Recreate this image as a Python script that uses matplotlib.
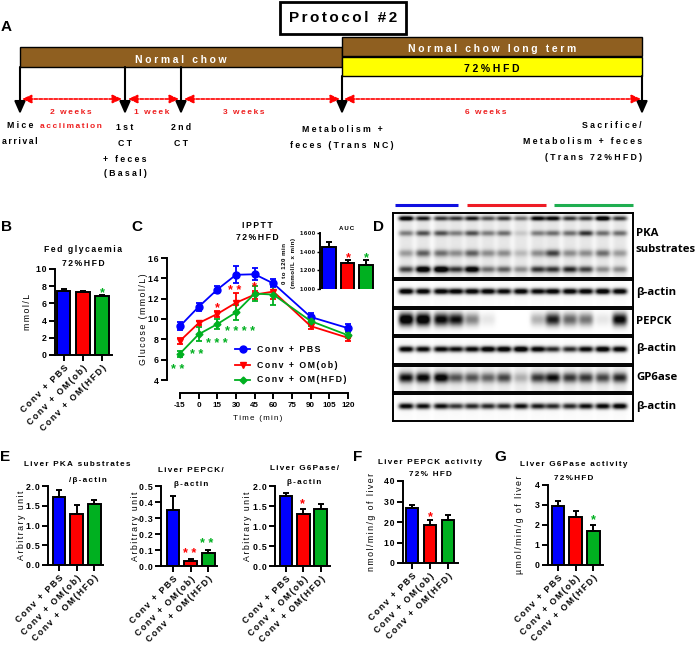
import matplotlib
matplotlib.use("Agg")
import matplotlib.pyplot as plt
import numpy as np
from matplotlib.patches import Rectangle

W, H = 696, 645
plt.rcParams['font.family'] = ['Liberation Sans', 'DejaVu Sans']
plt.rcParams['font.weight'] = 'bold'
plt.rcParams['axes.linewidth'] = 1.4

# bar groups
groups = ["Conv + PBS", "Conv + OM(ob)", "Conv + OM(HFD)"]
colors = ["#0000ff", "#ff0000", "#00b020"]

fed_vals = [7.5, 7.3, 6.85]
fed_errs = [0.2, 0.2, 0.15]
pka_vals = [1.72, 1.30, 1.55]
pka_errs = [0.17, 0.22, 0.09]
pepck_vals = [0.35, 0.03, 0.08]
pepck_errs = [0.09, 0.012, 0.018]
g6p_vals = [1.75, 1.30, 1.42]
g6p_errs = [0.07, 0.12, 0.12]
pepck_act_vals = [27.0, 18.7, 21.2]
pepck_act_errs = [1.5, 2.5, 2.0]
g6p_act_vals = [2.95, 2.38, 1.72]
g6p_act_errs = [0.25, 0.30, 0.30]
auc_vals = [1450, 1275, 1255]
auc_errs = [55, 35, 55]

# IPPTT curves
time_min = [-15, 0, 15, 30, 45, 60, 90, 120]
time_ticks = [-15, 0, 15, 30, 45, 60, 75, 90, 105, 120]
pbs_mean = [9.3, 11.2, 12.9, 14.35, 14.4, 13.5, 10.2, 9.1]
pbs_err = [0.4, 0.4, 0.3, 0.85, 0.6, 0.4, 0.4, 0.4]
ob_mean = [7.85, 9.6, 10.5, 11.6, 12.4, 12.7, 9.3, 8.15]
ob_err = [0.3, 0.2, 0.3, 0.95, 0.4, 0.7, 0.3, 0.3]
hfd_mean = [6.6, 8.5, 9.5, 10.65, 12.5, 12.4, 9.8, 8.4]
hfd_err = [0.3, 0.7, 0.5, 0.7, 0.7, 1.0, 0.5, 0.3]

# blot band strength per lane, read by eye
pka_band1 = [.9, .7, .6, .6, .7, .5, .6, .4, .8, .8, .6, .6, .95, .6]
pka_band2 = [.35, .5, .5, .35, .5, .35, .4, .1, .35, .4, .4, .6, .4, .4]
pka_band3 = [.25, .45, .4, .3, .45, .3, .3, .15, .3, .55, .3, .3, .4, .25]
pka_band4 = [.55, .95, 1, .6, .9, .4, .45, .3, .6, .6, .65, .55, .3, .3]
actin1 = [.95, .9, .9, .9, .9, .9, .85, .9, .85, .9, .9, .9, .95, .9]
pepck_band = [1, 1, .85, .8, .4, .08, 0, 0, .25, .75, .5, .45, .08, .85]
actin2 = [.9, .85, .85, .8, .85, .95, .95, 1, .9, .7, .7, .85, .95, .9]
gp6_band = [.75, .8, .85, .5, .5, .45, .55, .2, .6, .75, .6, .6, .55, .65]
actin3 = [.85, .8, .8, .65, .7, .7, .7, .8, .75, .7, .7, .8, .85, .9]
lane_px = [406, 423, 441, 456, 472, 488, 504, 521, 538, 553, 570, 586, 603, 620]

fig = plt.figure(figsize=(W / 100, H / 100), dpi=100)


def sp(s, n=2):
    # the original text is letter spaced, hair spaces get close to that
    return ("\u200a" * n).join(s)


def px_axes(x0, y_top, x1, y_bot, **kw):
    return fig.add_axes([x0 / W, 1 - y_bot / H, (x1 - x0) / W, (y_bot - y_top) / H], **kw)


def bar_panel(x0, x1, y_top, y_bot, first, step, vals, errs, ylim, yticks, ticklabels, ylabel, label_x=None, fs=6.3):
    ax = px_axes(x0, y_top, x1, y_bot)
    ax.patch.set_alpha(0)
    ax.bar(range(3), vals, width=0.72, color=colors, edgecolor="k", linewidth=1.4)
    ax.errorbar(range(3), vals, yerr=[[0, 0, 0], errs], fmt="none", ecolor="k",
                elinewidth=1.4, capsize=2.5, capthick=1.4)
    ax.set_xlim((x0 - first) / step, (x1 - first) / step)
    ax.set_ylim(*ylim)
    ax.set_yticks(yticks)
    ax.set_yticklabels([sp(l, 1) for l in ticklabels], fontsize=fs)
    ax.set_xticks(range(3))
    ax.set_xticklabels([sp(g) for g in groups], rotation=45, ha="right", rotation_mode="anchor", fontsize=fs)
    ax.tick_params(width=1.4, length=4, pad=2)
    ax.spines["top"].set_visible(False)
    ax.spines["right"].set_visible(False)
    if ylabel:
        ax.set_ylabel(sp(ylabel), fontsize=fs, va="center")
        ax.yaxis.set_label_coords((label_x - x0) / (x1 - x0), 0.5)
    return ax


bar_panel(55, 112, 269, 355, 63.5, 19.2, fed_vals, fed_errs, (0, 10), [0, 2, 4, 6, 8, 10],
          ["0", "2", "4", "6", "8", "10"], "mmol/L", 27)
bar_panel(48, 103, 486, 565, 59, 17.6, pka_vals, pka_errs, (0, 2), [0, .5, 1, 1.5, 2],
          ["0.0", "0.5", "1.0", "1.5", "2.0"], "Arbitrary unit", 22)
bar_panel(161, 217, 486, 566, 173, 17.6, pepck_vals, pepck_errs, (0, .5), [0, .1, .2, .3, .4, .5],
          ["0.0", "0.1", "0.2", "0.3", "0.4", "0.5"], "Arbitrary unit", 135)
bar_panel(275, 330, 486, 566, 286, 17.3, g6p_vals, g6p_errs, (0, 2), [0, .5, 1, 1.5, 2],
          ["0.0", "0.5", "1.0", "1.5", "2.0"], "Arbitrary unit", 248)
bar_panel(403, 458, 481, 563, 412, 18, pepck_act_vals, pepck_act_errs, (0, 40), [0, 10, 20, 30, 40],
          ["0", "10", "20", "30", "40"], "nmol/min/g of liver", 372)
bar_panel(548, 603, 485, 565, 558, 17.6, g6p_act_vals, g6p_act_errs, (0, 4), [0, 1, 2, 3, 4],
          ["0", "1", "2", "3", "4"], "\u00b5mol/min/g of liver", 519)

# panel C, y spine sits left of the x range and x spine below y range
ax_c = px_axes(167, 258, 348, 380)
ax_c.patch.set_alpha(0)
ax_c.spines["top"].set_visible(False)
ax_c.spines["right"].set_visible(False)
ax_c.spines["bottom"].set_position(("outward", 9.5))
ax_c.set_xlim(-15 - (180 - 167) * 15 / 18.67, 120)
ax_c.set_ylim(4, 16)
for mean, err, col, mk, ms in [(pbs_mean, pbs_err, colors[0], "o", 5),
                               (ob_mean, ob_err, colors[1], "v", 5),
                               (hfd_mean, hfd_err, colors[2], "D", 3.5)]:
    ax_c.errorbar(time_min, mean, yerr=err, color=col, marker=mk, ms=ms, lw=1.3,
                  elinewidth=1.3, capsize=2.5, capthick=1.3, clip_on=False)
ax_c.set_yticks([4, 6, 8, 10, 12, 14, 16])
ax_c.set_yticklabels([sp(l, 1) for l in ["4", "6", "8", "10", "12", "14", "16"]], fontsize=6.3)
ax_c.set_ylabel(sp("Glucose (mmol/L)"), fontsize=6.3, va="center")
ax_c.yaxis.set_label_coords((143 - 167) / (348 - 167), 0.5)
ax_c.set_xticks(time_ticks)
ax_c.set_xticklabels([str(x) for x in time_ticks], fontsize=5.8)
ax_c.set_xlabel(sp("Time (min)"), fontsize=5.8, labelpad=5)
ax_c.tick_params(width=1.4, length=4, pad=2)
ax_c.spines["bottom"].set_bounds(-15, 120)

# AUC inset
ax_i = bar_panel(320, 374, 233, 289, 329, 18.5, auc_vals, auc_errs, (1000, 1600),
                 [1000, 1200, 1400, 1600], ["1000", "1200", "1400", "1600"], None, fs=4.4)
ax_i.tick_params(width=1, length=2.5, pad=1)
ax_i.spines["bottom"].set_visible(False)
ax_i.set_xticks([])

# western blots
blot_rows = [
    (213, 278, [(pka_band1, .08, 2.3), (pka_band2, .31, 2.8), (pka_band3, .62, 3.6), (pka_band4, .87, 3.2)], .1),
    (280, 307, [(actin1, .42, 3.0)], .02),
    (309, 335, [(pepck_band, .40, 6.5)], 0),
    (337, 364, [(actin2, .45, 3.0)], .02),
    (366, 392, [(gp6_band, .45, 5.0)], .08),
    (394, 421, [(actin3, .45, 3.0)], .02),
]
for top, bot, bands, smear in blot_rows:
    ax = px_axes(393, top, 633, bot)
    yy, xx = np.mgrid[top:bot:(bot - top) * 2j, 393:633:480j]
    dark = np.zeros_like(xx)
    for strength, frac, sy in bands:
        yc = top + frac * (bot - top)
        for lane, s in zip(lane_px, strength):
            dark += 1.25 * s * np.exp(-((yy - yc) / sy) ** 2) * np.exp(-((xx - lane) / 7.5) ** 4)
    if smear:
        for lane in lane_px:
            dark += smear * np.exp(-((xx - lane) / 7.5) ** 4)
    ax.imshow(1 - np.clip(dark, 0, 1) * 0.97, cmap="gray", vmin=0, vmax=1, aspect="auto",
              extent=(393, 633, bot, top))
    ax.set_xticks([])
    ax.set_yticks([])

# overlay in pixel coordinates for the protocol scheme and labels
ov = fig.add_axes([0, 0, 1, 1], zorder=10)
ov.set_xlim(0, W)
ov.set_ylim(H, 0)
ov.axis("off")
ov.patch.set_alpha(0)


def t(x, y, s, size=6.2, color="k", ha="center", n=2, **kw):
    ov.text(x, y, sp(s, n), fontsize=size, color=color, ha=ha, va="center", **kw)


ov.add_patch(Rectangle((280, 2), 126, 32, fc="w", ec="k", lw=2))
t(343, 18, "Protocol #2", 11, n=2)

brown = "#8f5f20"
ov.add_patch(Rectangle((20, 47), 322, 20, fc=brown, ec="k", lw=1))
ov.add_patch(Rectangle((342, 37), 300, 19, fc=brown, ec="k", lw=1))
ov.add_patch(Rectangle((342, 57), 300, 19, fc="#ffff00", ec="k", lw=1))
t(181, 60, "Normal chow", 7.5, "w", n=3)
t(492, 49, "Normal chow long term", 7.5, "w", n=3)
t(492, 69, "72%HFD", 7.5, n=3)

for x, y0 in [(20, 67), (125, 67), (181, 67), (342, 76), (642, 76)]:
    ov.annotate("", xy=(x, 114), xytext=(x, y0),
                arrowprops=dict(arrowstyle="-|>,head_width=0.33,head_length=0.75", color="k", lw=1.5,
                                shrinkA=0, shrinkB=0))
for x0, x1 in [(22, 122), (128, 179), (184, 340), (344, 641)]:
    ov.annotate("", xy=(x1, 99), xytext=(x0, 99),
                arrowprops=dict(arrowstyle="<|-|>,head_width=0.25,head_length=0.55", color="r", lw=1.2,
                                ls=(0, (2, 1)), shrinkA=0, shrinkB=0))
for x, y, s in [(71, 112, "2 weeks"), (71, 127, "acclimation"), (152, 112, "1 week"),
                (244, 112, "3 weeks"), (486, 112, "6 weeks")]:
    t(x, y, s, 6, "#ee2020")
for x, y, s in [(20, 126, "Mice"), (125, 128, "1st"), (125, 144, "CT"),
                (125, 159, "+ feces"), (125, 174, "(Basal)"), (181, 128, "2nd"), (181, 143, "CT"),
                (342, 129, "Metabolism +"), (342, 145, "feces (Trans NC)")]:
    t(x, y, s, 6.3, n=3)
t(20, 141, "arrival", 6.3, n=2)
for y, s in [(126, "Sacrifice/"), (141, "Metabolism + feces"), (157, "(Trans 72%HFD)")]:
    t(642, y, s, 6.3, ha="right", n=3)

# panel letters
for x, y, s in [(6, 227, "B"), (137, 227, "C"), (379, 227, "D"), (6, 27, "A"),
                (5, 457, "E"), (358, 457, "F"), (500, 457, "G")]:
    ov.text(x, y, s, fontsize=11, ha="center", va="center")

# titles
t(83, 249, "Fed glycaemia")
t(83, 263, "72%HFD")
t(257, 225, "IPPTT")
t(257, 238, "72%HFD")
t(347, 229, "AUC", 4.4)
t(77, 465, "Liver PKA substrates", 5.9)
t(88, 480, "/\u03b2-actin", 5.9)
t(191, 471, "Liver PEPCK/", 5.9)
t(191, 485, "\u03b2-actin", 5.9)
t(304, 469, "Liver G6Pase/", 5.9)
t(304, 483, "\u03b2-actin", 5.9)
t(430, 462, "Liver PEPCK activity", 5.9)
t(430, 475, "72% HFD", 5.9)
t(574, 465, "Liver G6Pase activity", 5.9)
t(574, 478, "72%HFD", 5.9)

# inset y label
t(284, 263, "0 to 120 min", 4.4, rotation=90, n=1)
t(293, 263, "(mmol/L x min)", 4.4, rotation=90, n=1)

# legend of panel C, placed by hand like the original
for y, col, mk, ms, s in [(349, colors[0], "o", 5, "Conv + PBS"),
                          (365, colors[1], "v", 5, "Conv + OM(ob)"),
                          (380, colors[2], "D", 3.5, "Conv + OM(HFD)")]:
    ov.plot([235, 250], [y, y], color=col, lw=1.3)
    ov.plot([242.5], [y], color=col, marker=mk, ms=ms)
    t(257, y, s, 6.3, ha="left")

# significance stars
stars = [(178, 368, 2, colors[2]), (197, 353, 2, colors[2]), (217, 342, 3, colors[2]),
         (240, 330, 4, colors[2]), (217, 306, 1, colors[1]), (235, 289, 2, colors[1]),
         (254, 285, 1, colors[1]), (102, 291, 1, colors[2]), (348, 256, 1, colors[1]),
         (366, 256, 1, colors[2]),
         (190, 552, 2, colors[1]), (207, 542, 2, colors[2]), (302, 502, 1, colors[1]),
         (430, 515, 1, colors[1]), (593, 518, 1, colors[2])]
for x, y, k, c in stars:
    ov.text(x, y + 2, " ".join("*" * k), fontsize=9, color=c, ha="center", va="center")

# group bars above the blot
for x0, x1, c in [(395, 458, "#1010e0"), (467, 546, "#ee1c25"), (554, 633, "#1fae50")]:
    ov.plot([x0, x1], [205, 205], color=c, lw=2.2, solid_capstyle="butt")

# blot labels
for x, y, s in [(636, 233, "PKA"), (636, 249, "substrates"), (636, 292, "\u03b2-actin"),
                (636, 321, "PEPCK"), (636, 348, "\u03b2-actin"), (636, 377, "GP6ase"),
                (636, 406, "\u03b2-actin")]:
    ov.text(x, y, s, fontsize=8.2, ha="left", va="center", family="Open Sans")

fig.savefig("out.png", dpi=100)
